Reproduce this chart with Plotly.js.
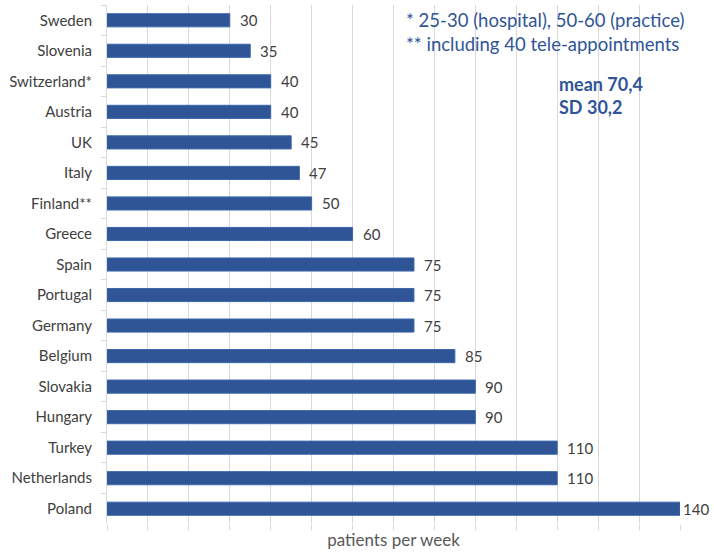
<!DOCTYPE html>
<html>
<head>
<meta charset="utf-8">
<script src="https://cdn.plot.ly/plotly-3.0.1.min.js"></script>
<style>html,body{margin:0;padding:0;background:#fff;}#chart{width:714px;height:552px;}</style>
</head>
<body>
<div id="chart"></div>
<script>
// Patients seen per week, by country
const countries = ["Sweden","Slovenia","Switzerland*","Austria","UK","Italy","Finland**","Greece",
  "Spain","Portugal","Germany","Belgium","Slovakia","Hungary","Turkey","Netherlands","Poland"];
const patients = [30,35,40,40,45,47,50,60,75,75,75,85,90,90,110,110,140];
const notes = ["* 25-30 (hospital), 50-60 (practice)", "** including 40 tele-appointments"];
const stats = ["mean 70,4", "SD 30,2"];

const FONT = "Lato, 'Open Sans', sans-serif";
const BLUE = "#2f5597";
const GREY_TXT = "#404040";

const trace = {
  type: "bar",
  orientation: "h",
  x: patients,
  y: countries,
  marker: {color: BLUE, line: {color: "#3a68ad", width: 1}},
  hoverinfo: "x+y"
};

// value labels next to each bar end
const valueLabels = patients.map((v, i) => ({
  x: v, y: countries[i], xref: "x", yref: "y",
  text: String(v), showarrow: false, xanchor: "left",
  xshift: v >= 140 ? 1 : 8,
  font: {family: FONT, size: 15, color: GREY_TXT}
}));

const noteLabels = [
  {xref: "paper", yref: "paper", x: 0.518, y: 0.997, xanchor: "left", yanchor: "top",
   text: notes.join("<br>"), showarrow: false, align: "left",
   font: {family: FONT, size: 18.5, color: BLUE}},
  {xref: "paper", yref: "paper", x: 0.786, y: 0.872, xanchor: "left", yanchor: "top",
   text: "<b>" + stats.join("<br>") + "</b>", showarrow: false, align: "left",
   font: {family: FONT, size: 18, color: BLUE}}
];

// white panels behind the notes, masking the gridlines there
const panels = [
  {type: "rect", xref: "paper", yref: "paper", layer: "between",
   x0: 0.49, x1: 1.06, y0: 0.888, y1: 1.02, fillcolor: "#ffffff", line: {width: 0}},
  {type: "rect", xref: "paper", yref: "paper", layer: "between",
   x0: 0.77, x1: 1.06, y0: 0.74, y1: 0.89, fillcolor: "#ffffff", line: {width: 0}}
];

const layout = {
  width: 714, height: 552,
  margin: {l: 107, r: 34, t: 5, b: 28},
  paper_bgcolor: "#ffffff", plot_bgcolor: "#ffffff",
  showlegend: false,
  bargap: 0.57,
  font: {family: FONT, color: GREY_TXT},
  xaxis: {
    range: [0, 140], dtick: 10, tick0: 0,
    showticklabels: false,
    ticks: "outside", ticklen: 5, tickcolor: "#d9d9d9",
    showgrid: true, gridcolor: "#d9d9d9", gridwidth: 1,
    zeroline: false, showline: false,
    automargin: false,
    title: {text: "patients per week", standoff: 5, font: {family: FONT, size: 17, color: "#595959"}}
  },
  yaxis: {
    type: "category",
    autorange: "reversed",
    tickson: "boundaries",
    ticks: "outside", ticklen: 5, tickcolor: "#d9d9d9",
    showline: true, linecolor: "#d9d9d9", linewidth: 1,
    showgrid: false, zeroline: false,
    ticklabelstandoff: 11,
    automargin: false,
    tickfont: {family: FONT, size: 15, color: GREY_TXT}
  },
  shapes: panels,
  annotations: valueLabels.concat(noteLabels)
};

Plotly.newPlot("chart", [trace], layout, {displayModeBar: false, staticPlot: true});
</script>
</body>
</html>
